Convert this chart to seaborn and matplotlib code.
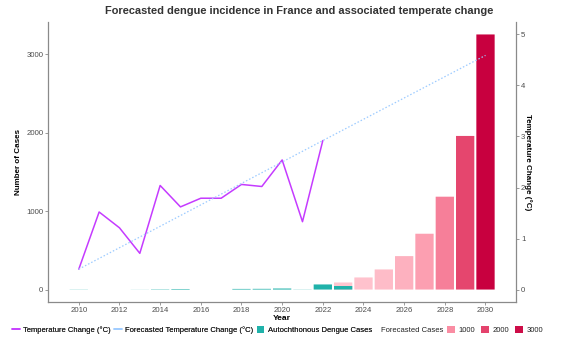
import numpy as np
import pandas as pd
import matplotlib
matplotlib.use("Agg")
import matplotlib.pyplot as plt
import seaborn as sns
from matplotlib.colors import LinearSegmentedColormap, Normalize
from matplotlib.lines import Line2D
from matplotlib.patches import Patch

# ---- data ----
obs_years = [2010, 2011, 2012, 2013, 2014, 2015, 2016, 2017, 2018, 2019, 2020, 2021, 2022]
temp_change = [0.40, 1.52, 1.21, 0.71, 2.04, 1.62, 1.79, 1.79, 2.06, 2.02, 2.54, 1.33, 2.92]

trend_years = [2010, 2022, 2030]
trend_temp = [0.40, 2.92, 4.59]

auto_years = [2010, 2013, 2014, 2015, 2018, 2019, 2020, 2021, 2022, 2023]
auto_cases = [2, 1, 4, 7, 8, 9, 13, 2, 65, 45]

fc_years = [2023, 2024, 2025, 2026, 2027, 2028, 2029, 2030]
fc_cases = [90, 154, 256, 426, 711, 1183, 1957, 3250]

legend_levels = [1000, 2000, 3000]
x_ticks = list(range(2010, 2031, 2))
temp_ticks = [0, 1, 2, 3, 4, 5]

# cases per degree on the secondary axis
SCALE = 650.0

# ---- style ----
sns.set_theme(style="white")
plt.rcParams["font.family"] = ["Liberation Sans", "DejaVu Sans"]

W, H = 587, 347
fig = plt.figure(figsize=(W / 100, H / 100), dpi=100)

def fx(px):
    return px / W

def fy(py):
    return 1 - py / H

ax = fig.add_axes([fx(48.3), fy(302.3), fx(516) - fx(48.3), fy(21.7) - fy(302.3)])

TEAL = "#20B2AA"
PURPLE = "#C53BFF"
SKY = "#9CCBFF"
TEXT = "#222222"

cmap = LinearSegmentedColormap.from_list(
    "fc", [(0.0, "#FFC6D0"), (0.29, "#FA8CA2"), (0.60, "#E4446D"), (1.0, "#C8003F")]
)
norm = Normalize(vmin=min(fc_cases), vmax=max(fc_cases))

fc_df = pd.DataFrame({"Year": fc_years, "Cases": fc_cases})
fc_palette = {y: cmap(norm(c)) for y, c in zip(fc_years, fc_cases)}
sns.barplot(data=fc_df, x="Year", y="Cases", hue="Year", palette=fc_palette,
            native_scale=True, dodge=False, legend=False, width=0.9, saturation=1,
            errorbar=None, linewidth=0, edgecolor="none", ax=ax)

auto_df = pd.DataFrame({"Year": auto_years, "Cases": auto_cases})
sns.barplot(data=auto_df, x="Year", y="Cases", color=TEAL, native_scale=True,
            width=0.9, errorbar=None, linewidth=0, edgecolor="none", saturation=1, ax=ax)

# let very short bars render with their true sub-pixel height
for p in ax.patches:
    p.set_snap(False)

obs_df = pd.DataFrame({"Year": obs_years, "Cases": np.array(temp_change) * SCALE})
sns.lineplot(data=obs_df, x="Year", y="Cases", color=PURPLE, linewidth=1.1, ax=ax)

trend_df = pd.DataFrame({"Year": trend_years, "Cases": np.array(trend_temp) * SCALE})
sns.lineplot(data=trend_df, x="Year", y="Cases", color=SKY, linewidth=0.9,
             linestyle=(0, (1.2, 1.6)), ax=ax)

ax.set_xlim(2008.5, 2031.5)
ax.set_ylim(-162.5, 3412.5)
ax.set_xticks(x_ticks)
ax.set_xticklabels([str(t) for t in x_ticks])
ax.set_yticks([0, 1000, 2000, 3000])

sec = ax.secondary_yaxis("right", functions=(lambda c: c / SCALE, lambda t: t * SCALE))
sec.set_yticks(temp_ticks)

GRAY = "#8A8A8A"
for s in ["left", "bottom"]:
    ax.spines[s].set_color(GRAY)
    ax.spines[s].set_linewidth(0.9)
ax.spines["top"].set_visible(False)
ax.spines["right"].set_visible(False)
sec.spines["right"].set_color(GRAY)
sec.spines["right"].set_linewidth(0.9)

for a in (ax, sec):
    a.tick_params(axis="both", length=2, width=0.6, color=GRAY,
                  labelsize=5.6, labelcolor="#4D4D4D", pad=1.5)
ax.tick_params(axis="both", which="both", bottom=True, left=True)

ax.set_xlabel("Year", fontsize=6, fontweight="bold", labelpad=0.5, color="black")
ax.set_ylabel("Number of Cases", fontsize=5.8, fontweight="bold", labelpad=3, color="black")
sec.set_ylabel("")
fig.text(fx(528), fy(162), "Temperature Change (°C)", rotation=-90,
         fontsize=5.8, fontweight="bold", ha="center", va="center", color="black")

fig.text(fx(299), fy(11), "Forecasted dengue incidence in France and associated temperate change",
         fontsize=7.9, fontweight="bold", color="#333333", ha="center", va="center")

# ---- legend ----
leg_font = {"size": 5.5, "weight": "normal"}
h1 = [Line2D([0], [0], color=PURPLE, lw=1.1),
      Line2D([0], [0], color=SKY, lw=1.1),
      Patch(facecolor=TEAL, edgecolor="none")]
l1 = ["Temperature Change (°C)", "Forecasted Temperature Change (°C)", "Autochthonous Dengue Cases"]
leg1 = fig.legend(h1, l1, loc="center left", bbox_to_anchor=(fx(12), fy(330)), ncol=3,
                  frameon=False, prop=leg_font, handlelength=1.0, handleheight=1.0,
                  handletextpad=0.45, columnspacing=0.45, borderpad=0, borderaxespad=0,
                  labelcolor=TEXT)
fig.add_artist(leg1)

fig.text(fx(381), fy(330), "Forecasted Cases", fontsize=5.5, ha="left", va="center", color=TEXT)
h2 = [Patch(facecolor=cmap(norm(v)), edgecolor="none") for v in legend_levels]
fig.legend(h2, [str(v) for v in legend_levels], loc="center left",
           bbox_to_anchor=(fx(447), fy(330)), ncol=3, frameon=False, prop=leg_font,
           handlelength=1.0, handleheight=1.0, handletextpad=0.5, columnspacing=0.8,
           borderpad=0, borderaxespad=0, labelcolor=TEXT)

fig.savefig("out.png", dpi=100)
